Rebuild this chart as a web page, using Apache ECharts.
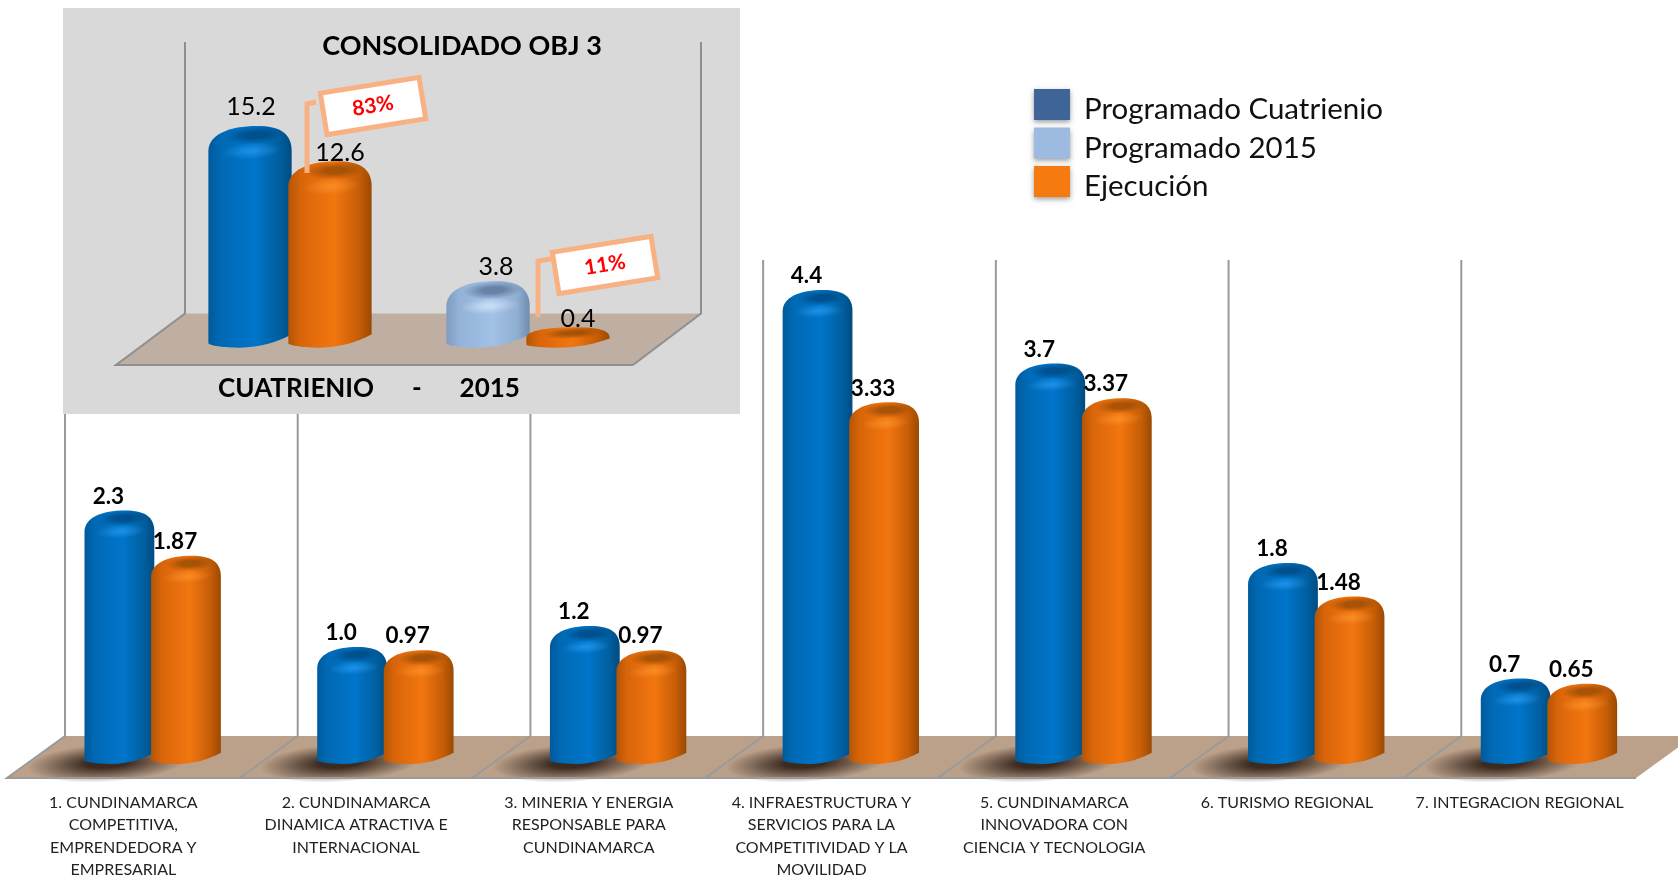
<!DOCTYPE html>
<html>
<head>
<meta charset="utf-8">
<title>Consolidado OBJ 3</title>
<script src="https://cdn.jsdelivr.net/npm/echarts@6/dist/echarts.min.js"></script>
<style>
  html, body { margin: 0; padding: 0; background: #fff; }
  #main { width: 1678px; height: 876px; }
</style>
</head>
<body>
<div id="main"></div>
<script>
var categories = [
  '1. CUNDINAMARCA\nCOMPETITIVA,\nEMPRENDEDORA Y\nEMPRESARIAL',
  '2. CUNDINAMARCA\nDINAMICA ATRACTIVA E\nINTERNACIONAL',
  '3. MINERIA Y ENERGIA\nRESPONSABLE PARA\nCUNDINAMARCA',
  '4. INFRAESTRUCTURA Y\nSERVICIOS PARA LA\nCOMPETITIVIDAD Y LA\nMOVILIDAD',
  '5. CUNDINAMARCA\nINNOVADORA CON\nCIENCIA Y TECNOLOGIA',
  '6. TURISMO REGIONAL',
  '7. INTEGRACION REGIONAL'
]
var programado = ['2.3', '1.0', '1.2', '4.4', '3.7', '1.8', '0.7']
var ejecucion = ['1.87', '0.97', '0.97', '3.33', '3.37', '1.48', '0.65']

var insetCategories = ['CUATRIENIO', '2015']
var insetCuatrienio = ['15.2', null]
var insetProgramado2015 = [null, '3.8']
var insetEjecucion = ['12.6', '0.4']
var insetPercent = ['83%', '11%']

var FONT = 'Lato, "Open Sans", sans-serif'
var G = echarts.graphic

var BLUE = {
  stops: ['#005a9c', '#0069b4', '#0075ca', '#005f9f', '#004c82'],
  cap: 'rgba(0,72,128,0.8)', hi: 'rgba(45,160,250,0.6)', hiOff: 'rgba(45,160,250,0)', capOff: 'rgba(0,72,128,0)'
}
var ORANGE = {
  stops: ['#b35504', '#d9650a', '#f2760f', '#c65d06', '#9a4a03'],
  cap: 'rgba(150,75,5,0.8)', hi: 'rgba(255,150,50,0.6)', hiOff: 'rgba(255,150,50,0)', capOff: 'rgba(150,75,5,0)'
}
var LIGHT = {
  stops: ['#7f9cc0', '#93b2d8', '#a2c1e6', '#90aed2', '#6f8cb0'],
  cap: 'rgba(95,120,155,0.85)', hi: 'rgba(225,242,255,0.6)', hiOff: 'rgba(225,242,255,0)', capOff: 'rgba(95,120,155,0)'
}

function blob (cx, cy, rx, ry, c0, c1, core) {
  return {
    type: 'circle',
    x: cx,
    y: cy,
    scaleY: ry / rx,
    rotation: 0.06,
    shape: { cx: 0, cy: 0, r: rx },
    style: {
      fill: new G.RadialGradient(0.5, 0.5, 0.5, [{ offset: 0, color: c0 }, { offset: core, color: c0 }, { offset: 1, color: c1 }])
    }
  }
}

// cylinder with rounded top, drawn from the axis scales
function cylinder (opt) {
  return function (params, api) {
    var idx = api.value(0)
    var top = api.coord([idx, api.value(1)])
    var zero = api.coord([idx, 0])
    var band = api.size([1, 0])[0]
    var W = band * opt.width
    var cx = top[0] + band * opt.offset
    var L = cx - W / 2
    var R = cx + W / 2
    var T = top[1]
    var B = zero[1] + opt.below
    var h = B - T
    var s = Math.min(W * 0.3, h * 0.5)
    var b = Math.min(W * 0.16, h * 0.45)
    var d = 'M' + L + ' ' + (T + s) +
      'C' + L + ' ' + (T + s * 0.35) + ' ' + (L + W * 0.25) + ' ' + T + ' ' + (L + W * 0.58) + ' ' + T +
      'C' + (R - W * 0.14) + ' ' + T + ' ' + R + ' ' + (T + s * 0.3) + ' ' + R + ' ' + (T + s) +
      'L' + R + ' ' + (B - b) +
      'C' + (R - W * 0.16) + ' ' + (B - b * 0.45) + ' ' + (L + W * 0.62) + ' ' + B + ' ' + (L + W * 0.38) + ' ' + B +
      'C' + (L + W * 0.2) + ' ' + B + ' ' + L + ' ' + (B - b * 0.15) + ' ' + L + ' ' + (B - b * 0.35) + 'Z'
    var c = opt.color
    var children = [{
      type: 'path',
      shape: { pathData: d },
      style: {
        fill: new G.LinearGradient(0, 0, 1, 0, [
          { offset: 0, color: c.stops[0] },
          { offset: 0.15, color: c.stops[1] },
          { offset: 0.55, color: c.stops[2] },
          { offset: 0.85, color: c.stops[3] },
          { offset: 1, color: c.stops[4] }
        ])
      }
    }]
    var capRy = Math.min(W * 0.11, h * 0.28)
    children.push(blob(L + W * 0.56, T + capRy, W * 0.36, capRy, c.cap, c.capOff, 0.35))
    if (h > W * 0.6) {
      children.push(blob(L + W * 0.52, T + W * 0.3, W * 0.36, W * 0.1, c.hi, c.hiOff, 0.1))
    }
    children.push({
      type: 'text',
      style: {
        text: opt.labels[idx],
        x: cx + opt.labelDx,
        y: T - opt.labelDy,
        align: 'center',
        verticalAlign: 'middle',
        fill: '#000',
        font: opt.font
      }
    })
    return { type: 'group', children: children }
  }
}

function toData (values) {
  var out = []
  values.forEach(function (v, i) {
    if (v !== null) out.push([i, parseFloat(v)])
  })
  return out
}

function cylinderSeries (name, values, opt, gridIndex, z) {
  opt.labels = values
  return {
    name: name,
    type: 'custom',
    xAxisIndex: gridIndex,
    yAxisIndex: gridIndex,
    z: z,
    silent: true,
    clip: false,
    encode: { x: 0, y: 1 },
    data: toData(values),
    renderItem: cylinder(opt)
  }
}

var MAIN_FONT = 'bold 22.5px ' + FONT
var INSET_FONT = '25px ' + FONT
var main = { width: 0.3, below: 12, font: MAIN_FONT, labelDy: 14, labelDx: -11 }
var legendShadow = { shadowBlur: 5, shadowColor: 'rgba(0,0,0,0.4)', shadowOffsetY: 2 }

var chart = echarts.init(document.getElementById('main'))
chart.setOption({
  animation: false,
  backgroundColor: '#fff',
  title: [{
    text: 'CONSOLIDADO OBJ 3',
    left: 457,
    top: 28,
    textAlign: 'center',
    textStyle: { fontFamily: FONT, fontWeight: 'bold', fontSize: 27, color: '#000' }
  }, {
    text: 'CUATRIENIO      -      2015',
    left: 364,
    top: 371,
    textAlign: 'center',
    textStyle: { fontFamily: FONT, fontWeight: 'bold', fontSize: 26, color: '#000' }
  }],
  legend: {
    orient: 'vertical',
    left: 1029,
    top: 84,
    itemWidth: 36,
    itemHeight: 31,
    itemGap: 3,
    icon: 'rect',
    selectedMode: false,
    z: 10,
    formatter: '{t|{name}}',
    textStyle: {
      rich: {
        t: { fontFamily: FONT, fontSize: 29.5, color: '#111', padding: [10, 0, 0, 9] }
      }
    },
    data: [
      { name: 'Programado Cuatrienio', itemStyle: Object.assign({ color: '#3F6497' }, legendShadow) },
      { name: 'Programado 2015', itemStyle: Object.assign({ color: '#9DBBE1' }, legendShadow) },
      { name: 'Ejecución', itemStyle: Object.assign({ color: '#F57A10' }, legendShadow) }
    ]
  },
  grid: [
    { left: 7, top: 227, width: 1629, height: 525, outerBoundsMode: 'none' },
    { left: 171, top: 60.7, width: 476, height: 272, outerBoundsMode: 'none' }
  ],
  xAxis: [{
    type: 'category',
    gridIndex: 0,
    data: categories,
    axisLine: { show: false },
    axisTick: { show: false },
    axisLabel: {
      interval: 0,
      margin: 39.5,
      color: '#222',
      fontFamily: FONT,
      fontSize: 16,
      lineHeight: 22.5,
      hideOverlap: false
    }
  }, {
    type: 'category',
    gridIndex: 1,
    data: insetCategories,
    show: false
  }],
  yAxis: [
    { type: 'value', gridIndex: 0, min: 0, max: 5, show: false },
    { type: 'value', gridIndex: 1, min: 0, max: 20, show: false }
  ],
  graphic: [
    { type: 'rect', z: 3, shape: { x: 63, y: 8, width: 677, height: 406 }, style: { fill: '#D9D9D9' } },
    { type: 'polygon', z: 4, shape: { points: [[185, 313.5], [701, 313.5], [633, 365], [116, 365]] }, style: { fill: '#BFAFA2' } },
    { type: 'polyline', z: 4, shape: { points: [[185, 42], [185, 313.5], [116, 365], [633, 365]] }, style: { stroke: '#8f8f8f', lineWidth: 2, fill: 'none' } },
    { type: 'polyline', z: 4, shape: { points: [[701, 42], [701, 313.5], [633, 365]] }, style: { stroke: '#8f8f8f', lineWidth: 2, fill: 'none' } },
    // callouts
    { type: 'polyline', z: 8, shape: { points: [[307, 173], [307, 104], [316, 102]] }, style: { stroke: '#F8B183', lineWidth: 5, fill: 'none' } },
    {
      type: 'group', z: 8, x: 373, y: 106, rotation: 0.16,
      children: [
        { type: 'rect', z: 8, shape: { x: -50, y: -21, width: 100, height: 42 }, style: { fill: '#fff', stroke: '#F8B183', lineWidth: 5 } },
        { type: 'text', z: 9, style: { text: insetPercent[0], x: 0, y: 0, align: 'center', verticalAlign: 'middle', fill: '#f00', font: 'bold 21px ' + FONT } }
      ]
    },
    { type: 'polyline', z: 8, shape: { points: [[538, 317], [538, 261], [556, 258]] }, style: { stroke: '#F8B183', lineWidth: 5, fill: 'none' } },
    {
      type: 'group', z: 8, x: 605, y: 265, rotation: 0.16,
      children: [
        { type: 'rect', z: 8, shape: { x: -50, y: -21, width: 100, height: 42 }, style: { fill: '#fff', stroke: '#F8B183', lineWidth: 5 } },
        { type: 'text', z: 9, style: { text: insetPercent[1], x: 0, y: 0, align: 'center', verticalAlign: 'middle', fill: '#f00', font: 'bold 21px ' + FONT } }
      ]
    }
  ],
  series: [
    {
      // floor, wall lines and ground shadow per category
      type: 'custom',
      xAxisIndex: 0,
      yAxisIndex: 0,
      z: 1,
      silent: true,
      clip: false,
      encode: { x: 0, y: 1 },
      data: categories.map(function (c, i) { return [i, 0] }),
      renderItem: function (params, api) {
        var p = api.coord([api.value(0), 0])
        var band = api.size([1, 0])[0]
        var left = p[0] - band / 2
        var back = p[1] - 16
        var front = p[1] + 26
        var wallTop = p[1] - 492
        return {
          type: 'group',
          children: [
            {
              type: 'polygon',
              shape: { points: [[left + 58, back], [left + band + 58, back], [left + band, front], [left, front]] },
              style: { fill: '#BCA18A' }
            },
            blob(left + 100, p[1] + 11, 80, 19, '#3a2a20', 'rgba(58,42,32,0)', 0.25),
            {
              type: 'polyline',
              shape: { points: [[left + 58, wallTop], [left + 58, back], [left, front], [left + band, front]] },
              style: { stroke: '#9a9a9a', lineWidth: 2, fill: 'none' }
            }
          ]
        }
      }
    },
    cylinderSeries('Programado Cuatrienio', programado, Object.assign({ color: BLUE, offset: -0.017 }, main), 0, 2),
    cylinderSeries('Ejecución', ejecucion, Object.assign({ color: ORANGE, offset: 0.269 }, main), 0, 2.1),
    cylinderSeries('Programado Cuatrienio', insetCuatrienio, { color: BLUE, offset: -0.168, width: 0.35, below: 15, font: INSET_FONT, labelDy: 19, labelDx: 1 }, 1, 5),
    cylinderSeries('Programado 2015', insetProgramado2015, { color: LIGHT, offset: -0.168, width: 0.35, below: 15, font: INSET_FONT, labelDy: 14, labelDx: 8 }, 1, 5),
    cylinderSeries('Ejecución', insetEjecucion, { color: ORANGE, offset: 0.168, width: 0.35, below: 15, font: INSET_FONT, labelDy: 8, labelDx: 10 }, 1, 6)
  ]
})
</script>
</body>
</html>
